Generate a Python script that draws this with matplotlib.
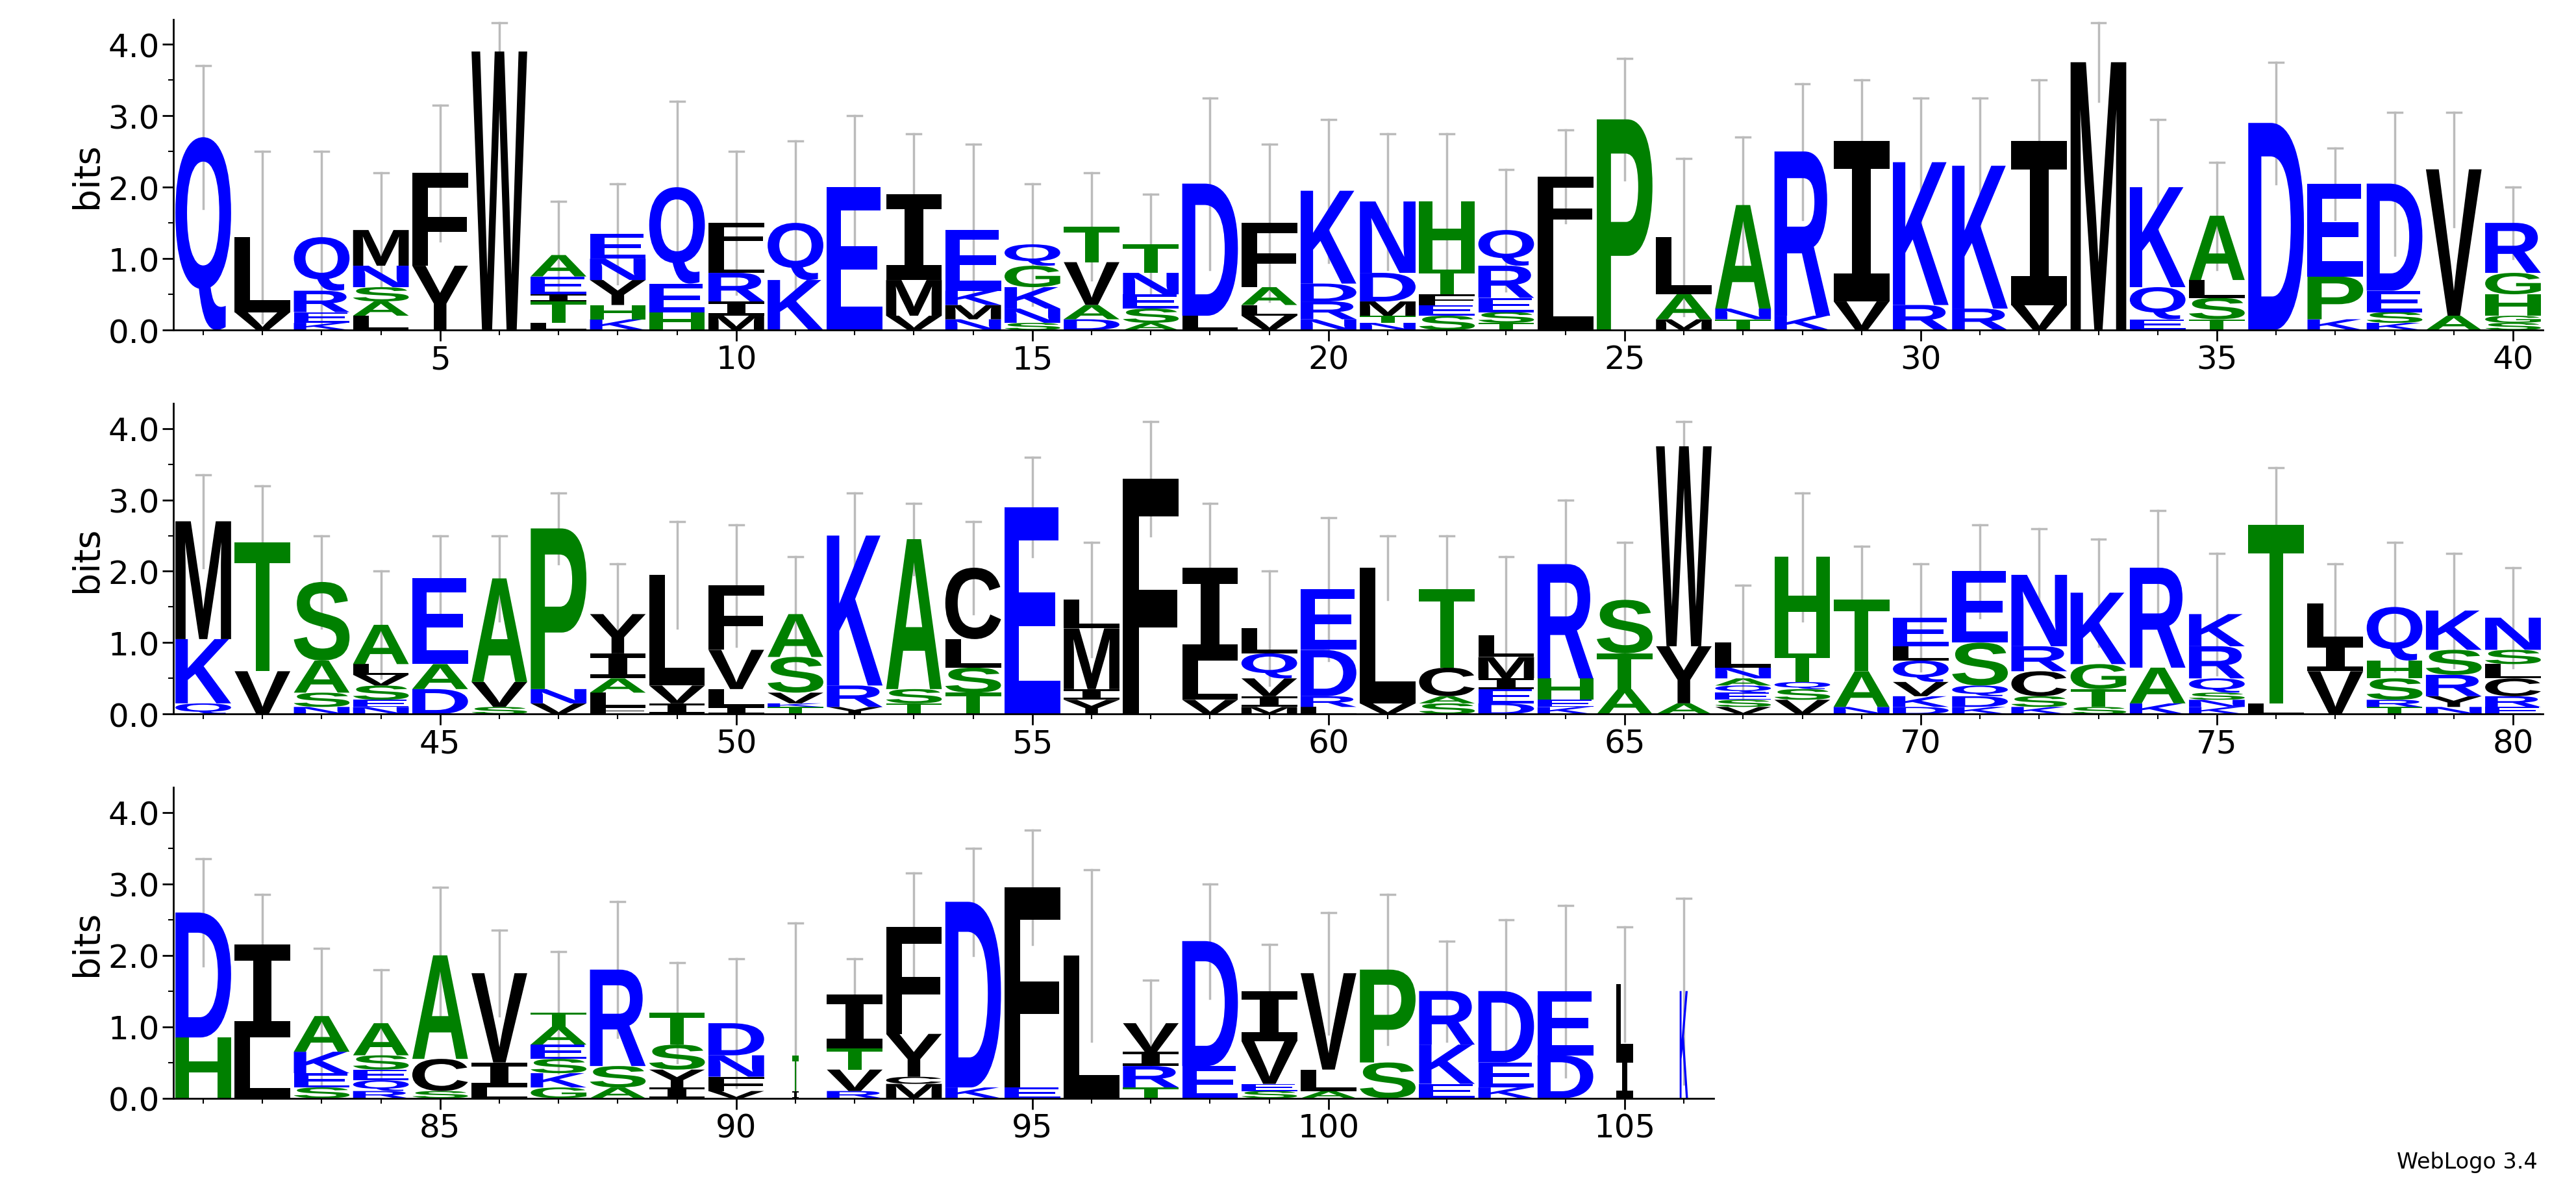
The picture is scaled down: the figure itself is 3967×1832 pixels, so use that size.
import matplotlib
matplotlib.use("Agg")
import matplotlib.pyplot as plt
from matplotlib.textpath import TextPath
from matplotlib.patches import PathPatch
from matplotlib.font_manager import FontProperties
from matplotlib.transforms import Affine2D

# letters per position, bottom to top, with heights (bits)
letters = ["Q","VL","KERQ","LASNM","YF","W","LTIEA","KHYNE","HEQ","MIRLF",
 "KQ","E","VMI","NMKE","SNKGQ","DAVT","ASENT","LD","VLAF","NRDK",
 "NTMDN","SEFTH","TSERQ","LF","P","MAL","TNA","KR","VI","RK",
 "RK","VI","M","EQK","TSLA","D","KPE","KSED","AV","SGHGR",
 "QKM","VT","NSAS","NESVLA","DAE","SVA","VNP","FLAIY","IVL","ILVF",
 "TKVSA","YRK","TSA","TSLC","E","YIML","F","VLI","MIVQL","LRDE",
 "VL","SACT","DEIML","KEHR","ATS","AYW","VSEQANL","VSQTH","NAT","DKVQLE",
 "KDQSE","KSCRN","STGK","KAR","KNSQRK","LT","VIL","TRSHQ","NYRSK","ERCLSN",
 "HD","LI","SEKA","RQESA","SCA","LIV","GKSEAT","ASR","IYST","VFND",
 "IT","RVTI","MCYF","KD","EF","L","TRIV","ED","SEVI","ALV",
 "SP","EKR","KED","DE","IL","K"]
heights = [[2.7],[0.25,1.05],[0.1,0.15,0.3,0.75],[0.2,0.2,0.2,0.3,0.5],[0.9,1.3],[3.9],[0.1,0.3,0.1,0.25,0.3],[0.15,0.2,0.35,0.3,0.35],[0.25,0.4,1.35],[0.2,0.2,0.4,0.3,0.4],
 [0.7,0.8],[2.0],[0.2,0.5,1.2],[0.15,0.2,0.2,0.85],[0.1,0.2,0.3,0.3,0.3],[0.15,0.2,0.6,0.5],[0.1,0.2,0.2,0.3,0.4],[0.2,1.85],[0.2,0.15,0.25,0.9],[0.15,0.25,0.25,1.3],
 [0.1,0.1,0.2,0.4,1.0],[0.2,0.15,0.15,0.35,0.95],[0.1,0.15,0.2,0.45,0.5],[1.2,0.95],[2.95],[0.15,0.35,0.8],[0.15,0.15,1.45],[0.2,2.3],[0.4,2.25],[0.35,2.0],
 [0.3,2.0],[0.35,2.3],[3.75],[0.15,0.45,1.4],[0.15,0.3,0.25,0.9],[2.9],[0.15,0.6,1.3],[0.1,0.15,0.3,1.5],[0.2,2.05],[0.1,0.1,0.3,0.3,0.7],
 [0.15,0.9,1.65],[0.6,1.8],[0.1,0.2,0.45,1.1],[0.1,0.1,0.2,0.15,0.15,0.55],[0.35,0.35,1.2],[0.1,0.35,1.45],[0.15,0.2,2.25],[0.1,0.2,0.2,0.35,0.55],[0.15,0.25,1.55],[0.1,0.25,0.55,0.9],
 [0.1,0.05,0.15,0.5,0.6],[0.1,0.3,2.1],[0.15,0.2,2.1],[0.3,0.35,0.4,1.0],[2.9],[0.2,0.15,0.85,0.4],[3.3],[0.2,0.55,1.3],[0.1,0.15,0.25,0.35,0.35],[0.1,0.15,0.65,0.85],
 [0.15,1.9],[0.15,0.1,0.4,1.1],[0.15,0.2,0.15,0.3,0.3],[0.1,0.1,0.3,1.6],[0.35,0.5,0.75],[0.15,0.8,2.8],[0.1,0.1,0.1,0.1,0.1,0.15,0.35],[0.2,0.15,0.1,0.4,1.35],[0.1,0.5,1.0],[0.1,0.15,0.2,0.3,0.2,0.4],
 [0.1,0.15,0.15,0.6,1.0],[0.1,0.15,0.35,0.35,1.0],[0.1,0.25,0.35,1.0],[0.15,0.5,1.4],[0.1,0.1,0.1,0.2,0.45,0.45],[0.15,2.5],[0.6,0.4,0.55],[0.1,0.1,0.3,0.25,0.75],[0.1,0.15,0.3,0.35,0.55],[0.1,0.15,0.25,0.2,0.2,0.45],
 [0.85,1.75],[0.85,1.3],[0.15,0.2,0.3,0.5],[0.1,0.15,0.15,0.2,0.45],[0.1,0.45,1.45],[0.15,0.35,1.25],[0.15,0.2,0.2,0.2,0.25,0.2],[0.15,0.3,1.35],[0.15,0.25,0.35,0.45],[0.1,0.2,0.3,0.45],
 [0.1,0.5],[0.1,0.3,0.3,0.75],[0.2,0.1,0.6,1.5],[0.15,2.6],[0.15,2.8],[2.0],[0.15,0.3,0.2,0.4],[0.45,1.75],[0.1,0.1,0.6,0.7],[0.1,0.3,1.35],
 [0.5,1.3],[0.2,0.55,0.75],[0.15,0.35,1.0],[0.6,0.9],[0.6,1.0],[1.5]]
err_top = [3.7,2.5,2.5,2.2,3.15,4.3,1.8,2.05,3.2,2.5,2.65,3.0,2.75,2.6,2.05,2.2,1.9,3.25,2.6,2.95,
 2.75,2.75,2.25,2.8,3.8,2.4,2.7,3.45,3.5,3.25,3.25,3.5,4.3,2.95,2.35,3.75,2.55,3.05,3.05,2.0,
 3.35,3.2,2.5,2.0,2.5,2.5,3.1,2.1,2.7,2.65,2.2,3.1,2.95,2.7,3.6,2.4,4.1,2.95,2.0,2.75,
 2.5,2.5,2.2,3.0,2.4,4.1,1.8,3.1,2.35,2.1,2.65,2.6,2.45,2.85,2.25,3.45,2.1,2.4,2.25,2.05,
 3.35,2.85,2.1,1.8,2.95,2.35,2.05,2.75,1.9,1.95,2.45,1.95,3.15,3.5,3.75,3.2,1.65,3.0,2.15,2.6,
 2.85,2.2,2.5,2.7,2.4,2.8]
widths = {91: 0.12, 105: 0.3, 106: 0.15}

black = "FWLIMVYC"; green = "ASTGPH"
def color(c):
    if c in black: return "black"
    if c in green: return "#008000"
    return "#0000ff"

fp = FontProperties(family="Liberation Sans", weight="bold")
fp_i = FontProperties(family="DejaVu Sans Mono", weight="bold")
W, H = 3967, 1833
fig = plt.figure(figsize=(W/100, H/100), dpi=100)
left = 104/1543; fullw = (1523-104)/1543; hh = 186/713
bottoms = [1-198/713, 1-428/713, 1-658/713]
ranges = [(1, 40), (41, 80), (81, 106)]
for r, (a, b) in enumerate(ranges):
    n = b - a + 1
    ax = fig.add_axes([left, bottoms[r], fullw*n/40, hh])
    ax.set_xlim(a-0.5, b+0.5); ax.set_ylim(0, 4.35)
    for p in range(a, b+1):
        i = p-1
        w = widths.get(p, 1.0)*0.94
        y = 0
        tot = sum(heights[i])
        e = err_top[i]-tot
        ax.plot([p, p], [max(tot-e, 0), tot+e], color="#bbbbbb", lw=2.5, zorder=1)
        ax.plot([p-0.12, p+0.12], [tot+e, tot+e], color="#bbbbbb", lw=2.5, zorder=1)
        for c, h in zip(letters[i], heights[i]):
            tp = TextPath((0, 0), c, size=1, prop=fp_i if c == "I" else fp)
            bb = tp.get_extents()
            tr = Affine2D().translate(-bb.x0, -bb.y0).scale(w/bb.width, h/bb.height).translate(p-w/2, y)
            ax.add_patch(PathPatch(tr.transform_path(tp), color=color(c), lw=0, zorder=2))
            y += h
    for s in ["top", "right"]:
        ax.spines[s].set_visible(False)
    for s in ["left", "bottom"]:
        ax.spines[s].set_linewidth(2)
    ax.set_xticks([t for t in range(a, b+1) if t % 5 == 0])
    ax.set_xticks(range(a, b+1), minor=True)
    ax.set_yticks([0, 1, 2, 3, 4]); ax.set_yticks([0.5, 1.5, 2.5, 3.5], minor=True)
    ax.set_yticklabels(["0.0", "1.0", "2.0", "3.0", "4.0"])
    ax.tick_params(labelsize=36, width=2, length=12)
    ax.tick_params(which="minor", width=1.5, length=6)
    ax.set_ylabel("bits", fontsize=40)
fig.text(0.985, 0.015, "WebLogo 3.4", fontsize=24, ha="right", va="bottom")
fig.savefig("out.png", dpi=100)
